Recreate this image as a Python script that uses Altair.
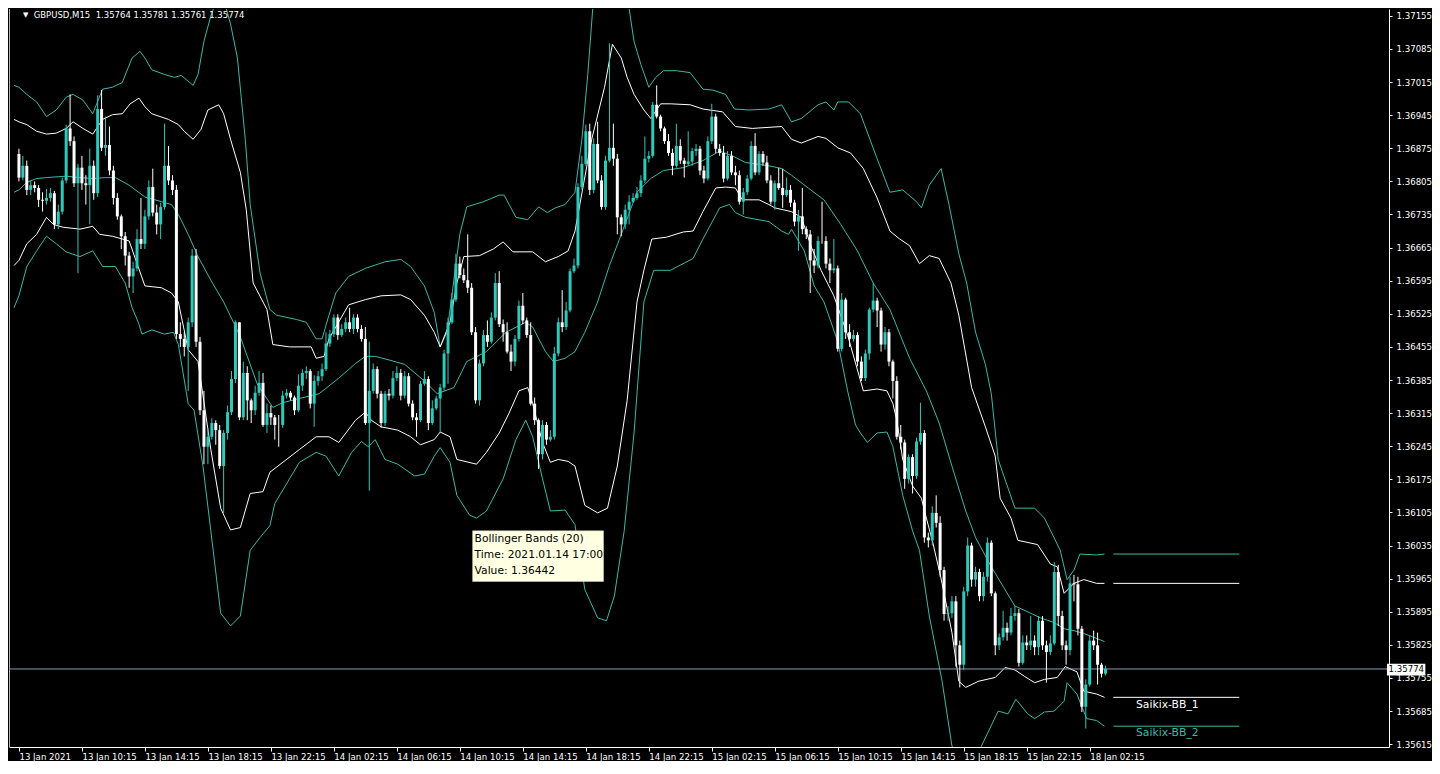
import altair as alt
import pandas as pd

# ---------------- data ----------------
first_open = 1.36863

close = [
    1.36813, 1.36838, 1.36787, 1.36797, 1.36791, 1.36766, 1.36764, 1.36770, 1.36780, 1.36714,
    1.36741, 1.36807, 1.36917, 1.36890, 1.36801, 1.36834, 1.36801, 1.36797, 1.36838, 1.36780,
    1.36958, 1.36876, 1.36882, 1.36828, 1.36770, 1.36731, 1.36689, 1.36648, 1.36604, 1.36621,
    1.36683, 1.36673, 1.36731, 1.36793, 1.36739, 1.36714, 1.36751, 1.36838, 1.36807, 1.36787,
    1.36482, 1.36472, 1.36455, 1.36507, 1.36648, 1.36466, 1.36321, 1.36244, 1.36265, 1.36294,
    1.36279, 1.36203, 1.36273, 1.36317, 1.36387, 1.36507, 1.36306, 1.36400, 1.36342, 1.36321,
    1.36358, 1.36379, 1.36290, 1.36315, 1.36306, 1.36290, 1.36290, 1.36352, 1.36358, 1.36348,
    1.36321, 1.36373, 1.36400, 1.36404, 1.36335, 1.36383, 1.36393, 1.36408, 1.36462, 1.36482,
    1.36517, 1.36480, 1.36493, 1.36507, 1.36493, 1.36517, 1.36493, 1.36472, 1.36294, 1.36362,
    1.36408, 1.36356, 1.36294, 1.36356, 1.36352, 1.36389, 1.36400, 1.36352, 1.36393, 1.36335,
    1.36306, 1.36300, 1.36377, 1.36387, 1.36294, 1.36325, 1.36346, 1.36369, 1.36441, 1.36507,
    1.36555, 1.36631, 1.36607, 1.36596, 1.36580, 1.36486, 1.36342, 1.36420, 1.36480, 1.36466,
    1.36517, 1.36590, 1.36503, 1.36486, 1.36445, 1.36424, 1.36472, 1.36542, 1.36511, 1.36480,
    1.36335, 1.36300, 1.36228, 1.36290, 1.36259, 1.36265, 1.36441, 1.36507, 1.36497, 1.36532,
    1.36615, 1.36627, 1.36793, 1.36842, 1.36911, 1.36787, 1.36884, 1.36807, 1.36751, 1.36849,
    1.36876, 1.36853, 1.36729, 1.36714, 1.36745, 1.36762, 1.36770, 1.36780, 1.36807, 1.36853,
    1.36859, 1.36967, 1.36942, 1.36917, 1.36890, 1.36865, 1.36838, 1.36880, 1.36849, 1.36842,
    1.36847, 1.36869, 1.36874, 1.36828, 1.36811, 1.36890, 1.36942, 1.36874, 1.36865, 1.36811,
    1.36859, 1.36824, 1.36818, 1.36762, 1.36782, 1.36811, 1.36880, 1.36824, 1.36863, 1.36845,
    1.36807, 1.36762, 1.36801, 1.36791, 1.36776, 1.36787, 1.36760, 1.36720, 1.36731, 1.36704,
    1.36693, 1.36638, 1.36627, 1.36679, 1.36679, 1.36631, 1.36617, 1.36621, 1.36451, 1.36555,
    1.36486, 1.36472, 1.36480, 1.36424, 1.36389, 1.36441, 1.36534, 1.36553, 1.36532, 1.36460,
    1.36486, 1.36424, 1.36383, 1.36265, 1.36253, 1.36176, 1.36222, 1.36182, 1.36255, 1.36273,
    1.36052, 1.36046, 1.36104, 1.36083, 1.35983, 1.35890, 1.35892, 1.35917, 1.35824, 1.35783,
    1.35938, 1.36035, 1.35963, 1.35979, 1.35928, 1.35969, 1.36041, 1.35934, 1.35824, 1.35841,
    1.35861, 1.35851, 1.35886, 1.35892, 1.35787, 1.35830, 1.35824, 1.35834, 1.35820, 1.35876,
    1.35824, 1.35810, 1.35828, 1.35979, 1.35886, 1.35824, 1.35814, 1.35955, 1.35953, 1.35859,
    1.35694, 1.35741, 1.35834, 1.35824, 1.35783, 1.35764, 1.35774,
]

high = [
    1.36874, 1.36859, 1.36849, 1.36807, 1.36805, 1.36797, 1.36782, 1.36789, 1.36791, 1.36785,
    1.36756, 1.36813, 1.36925, 1.36989, 1.36900, 1.36842, 1.36859, 1.36818, 1.36874, 1.36849,
    1.36987, 1.36998, 1.36942, 1.36921, 1.36838, 1.36780, 1.36735, 1.36698, 1.36656, 1.36635,
    1.36704, 1.36770, 1.36745, 1.36807, 1.36832, 1.36756, 1.36760, 1.36927, 1.36880, 1.36818,
    1.36797, 1.36507, 1.36486, 1.36517, 1.36662, 1.36662, 1.36476, 1.36362, 1.36284, 1.36304,
    1.36300, 1.36290, 1.36279, 1.36331, 1.36404, 1.36511, 1.36507, 1.36424, 1.36414, 1.36346,
    1.36373, 1.36404, 1.36400, 1.36335, 1.36331, 1.36311, 1.36311, 1.36362, 1.36366, 1.36362,
    1.36352, 1.36397, 1.36408, 1.36414, 1.36408, 1.36395, 1.36404, 1.36420, 1.36486, 1.36491,
    1.36524, 1.36524, 1.36503, 1.36517, 1.36538, 1.36524, 1.36524, 1.36501, 1.36497, 1.36466,
    1.36420, 1.36414, 1.36362, 1.36362, 1.36366, 1.36404, 1.36414, 1.36408, 1.36404, 1.36400,
    1.36342, 1.36315, 1.36383, 1.36404, 1.36393, 1.36342, 1.36352, 1.36377, 1.36449, 1.36517,
    1.36569, 1.36652, 1.36646, 1.36621, 1.36693, 1.36590, 1.36497, 1.36428, 1.36491, 1.36511,
    1.36528, 1.36611, 1.36615, 1.36513, 1.36507, 1.36460, 1.36480, 1.36553, 1.36569, 1.36517,
    1.36507, 1.36348, 1.36304, 1.36300, 1.36296, 1.36279, 1.36455, 1.36517, 1.36575, 1.36550,
    1.36621, 1.36642, 1.36801, 1.36859, 1.36925, 1.36927, 1.36896, 1.36931, 1.36818, 1.36859,
    1.37097, 1.36927, 1.36863, 1.36735, 1.36756, 1.36776, 1.36780, 1.36793, 1.36818, 1.36900,
    1.36869, 1.36973, 1.37008, 1.36946, 1.36921, 1.36905, 1.36874, 1.36927, 1.36894, 1.36855,
    1.36911, 1.36876, 1.36884, 1.36880, 1.36838, 1.36900, 1.36969, 1.36948, 1.36884, 1.36880,
    1.36869, 1.36869, 1.36838, 1.36828, 1.36791, 1.36818, 1.36890, 1.36907, 1.36869, 1.36869,
    1.36859, 1.36818, 1.36807, 1.36834, 1.36832, 1.36813, 1.36797, 1.36766, 1.36745, 1.36791,
    1.36710, 1.36702, 1.36662, 1.36689, 1.36762, 1.36689, 1.36642, 1.36683, 1.36627, 1.36569,
    1.36559, 1.36503, 1.36491, 1.36486, 1.36435, 1.36449, 1.36538, 1.36590, 1.36559, 1.36538,
    1.36497, 1.36493, 1.36428, 1.36393, 1.36290, 1.36259, 1.36228, 1.36228, 1.36263, 1.36337,
    1.36279, 1.36062, 1.36118, 1.36141, 1.36097, 1.35990, 1.35907, 1.35928, 1.35928, 1.35834,
    1.35948, 1.36052, 1.36041, 1.35990, 1.35986, 1.35979, 1.36052, 1.36046, 1.35938, 1.35849,
    1.35897, 1.35872, 1.35903, 1.35907, 1.35901, 1.35845, 1.35845, 1.35886, 1.35845, 1.35886,
    1.35886, 1.35834, 1.35845, 1.36000, 1.35994, 1.35897, 1.35834, 1.35969, 1.35973, 1.35969,
    1.35865, 1.35752, 1.35845, 1.35855, 1.35851, 1.35787, 1.35781,
]

low = [
    1.36805, 1.36807, 1.36776, 1.36776, 1.36782, 1.36751, 1.36741, 1.36756, 1.36762, 1.36704,
    1.36704, 1.36735, 1.36801, 1.36880, 1.36793, 1.36611, 1.36787, 1.36756, 1.36714, 1.36766,
    1.36772, 1.36869, 1.36859, 1.36818, 1.36756, 1.36724, 1.36662, 1.36627, 1.36580, 1.36569,
    1.36615, 1.36662, 1.36662, 1.36724, 1.36731, 1.36693, 1.36683, 1.36745, 1.36797, 1.36776,
    1.36472, 1.36455, 1.36435, 1.36362, 1.36497, 1.36455, 1.36311, 1.36207, 1.36207, 1.36259,
    1.36248, 1.36197, 1.36104, 1.36259, 1.36311, 1.36379, 1.36300, 1.36300, 1.36300, 1.36294,
    1.36311, 1.36352, 1.36286, 1.36273, 1.36290, 1.36259, 1.36244, 1.36284, 1.36346, 1.36342,
    1.36311, 1.36317, 1.36362, 1.36387, 1.36325, 1.36286, 1.36373, 1.36383, 1.36404, 1.36455,
    1.36476, 1.36470, 1.36476, 1.36486, 1.36486, 1.36482, 1.36486, 1.36466, 1.36290, 1.36151,
    1.36356, 1.36346, 1.36284, 1.36288, 1.36342, 1.36346, 1.36383, 1.36342, 1.36346, 1.36329,
    1.36300, 1.36265, 1.36296, 1.36373, 1.36279, 1.36290, 1.36321, 1.36275, 1.36362, 1.36377,
    1.36503, 1.36550, 1.36600, 1.36590, 1.36569, 1.36480, 1.36335, 1.36331, 1.36414, 1.36455,
    1.36462, 1.36511, 1.36497, 1.36466, 1.36441, 1.36404, 1.36414, 1.36466, 1.36503, 1.36474,
    1.36331, 1.36290, 1.36197, 1.36217, 1.36248, 1.36255, 1.36259, 1.36435, 1.36486, 1.36491,
    1.36528, 1.36611, 1.36621, 1.36787, 1.36838, 1.36776, 1.36780, 1.36801, 1.36745, 1.36745,
    1.36845, 1.36838, 1.36693, 1.36689, 1.36704, 1.36714, 1.36760, 1.36766, 1.36772, 1.36801,
    1.36845, 1.36855, 1.36938, 1.36911, 1.36884, 1.36859, 1.36818, 1.36834, 1.36842, 1.36813,
    1.36838, 1.36838, 1.36859, 1.36818, 1.36801, 1.36807, 1.36884, 1.36865, 1.36859, 1.36803,
    1.36807, 1.36818, 1.36797, 1.36756, 1.36735, 1.36776, 1.36807, 1.36818, 1.36818, 1.36838,
    1.36801, 1.36756, 1.36745, 1.36787, 1.36749, 1.36772, 1.36751, 1.36710, 1.36658, 1.36693,
    1.36683, 1.36569, 1.36611, 1.36621, 1.36673, 1.36621, 1.36590, 1.36611, 1.36445, 1.36445,
    1.36472, 1.36455, 1.36466, 1.36414, 1.36383, 1.36383, 1.36428, 1.36528, 1.36497, 1.36445,
    1.36449, 1.36414, 1.36346, 1.36259, 1.36238, 1.36155, 1.36166, 1.36145, 1.36176, 1.36248,
    1.36041, 1.36031, 1.36035, 1.36073, 1.35969, 1.35876, 1.35876, 1.35882, 1.35779, 1.35735,
    1.35772, 1.35928, 1.35948, 1.35948, 1.35917, 1.35917, 1.35959, 1.35928, 1.35803, 1.35814,
    1.35834, 1.35834, 1.35845, 1.35876, 1.35779, 1.35783, 1.35814, 1.35814, 1.35803, 1.35803,
    1.35814, 1.35745, 1.35803, 1.35824, 1.35865, 1.35814, 1.35783, 1.35803, 1.35917, 1.35845,
    1.35683, 1.35648, 1.35737, 1.35814, 1.35741, 1.35756, 1.35760,
]

# Bollinger band lines: (bar index, price) points
bb2_upper = [
    (-1.25, 1.37008), (0, 1.37004), (2, 1.36989), (4.5, 1.36973), (7, 1.36942), (9.5, 1.36956),
    (12, 1.36983), (13.75, 1.36989), (16.25, 1.36977), (18.75, 1.36948), (21.25, 1.37000),
    (23.75, 1.37004), (26.25, 1.37014), (28.75, 1.37066), (30.75, 1.37080), (32, 1.37066),
    (33.75, 1.37041), (37, 1.37031), (39.5, 1.37025), (41.25, 1.37029), (44.25, 1.37008),
    (45.5, 1.37031), (47, 1.37101), (48.75, 1.37155), (50.5, 1.37194), (52, 1.37190),
    (53.75, 1.37138), (55.5, 1.37066), (57.5, 1.36894), (58.75, 1.36756), (61.25, 1.36611),
    (63.75, 1.36534), (65.5, 1.36522), (70.5, 1.36513), (73, 1.36507), (75.5, 1.36472),
    (77, 1.36472), (78.75, 1.36522), (80.5, 1.36569), (83.75, 1.36604), (88, 1.36621),
    (93, 1.36635), (97, 1.36640), (99.5, 1.36625), (103, 1.36584), (105.5, 1.36528),
    (107, 1.36455), (108.75, 1.36486), (112, 1.36693), (113.75, 1.36751), (118, 1.36762),
    (122, 1.36776), (123.25, 1.36776), (126.25, 1.36729), (129.25, 1.36724), (132, 1.36751),
    (134.25, 1.36739), (136.25, 1.36749), (138.75, 1.36756), (141.25, 1.36782), (143, 1.36894),
    (144.5, 1.37031), (145.75, 1.37170), (148.75, 1.37252), (151.75, 1.37263), (154.25, 1.37190),
    (155, 1.37170), (156.25, 1.37101), (158, 1.37052), (160, 1.37004), (161.75, 1.37025),
    (163.75, 1.37039), (167, 1.37039), (170.5, 1.37035), (173.75, 1.37000), (176.25, 1.36998),
    (179.5, 1.36989), (181.75, 1.36958), (185.5, 1.36956), (190.5, 1.36958), (193.75, 1.36967),
    (196.25, 1.36931), (198.75, 1.36938), (203, 1.36967), (205, 1.36973), (207, 1.36956),
    (208, 1.36973), (210.75, 1.36973), (213.75, 1.36948), (218, 1.36853), (221.25, 1.36782),
    (224.5, 1.36787), (228, 1.36762), (229.25, 1.36749), (231.25, 1.36797), (234.25, 1.36832),
    (236.25, 1.36756), (238.75, 1.36652), (240.75, 1.36590), (243, 1.36486), (245.5, 1.36418),
    (247, 1.36356), (248.75, 1.36217), (253, 1.36114), (258, 1.36114), (260.5, 1.36093),
    (264.5, 1.36025), (266.25, 1.35963), (268, 1.35983), (269.5, 1.36017), (273.75, 1.36015),
    (275.75, 1.36017),
]

bb1_upper = [
    (-1.25, 1.36936), (0, 1.36931), (2, 1.36925), (4.5, 1.36911), (7, 1.36905), (9.5, 1.36907),
    (12, 1.36917), (13.75, 1.36931), (16.25, 1.36917), (18.75, 1.36905), (21.25, 1.36936),
    (23.75, 1.36946), (26.25, 1.36948), (28.25, 1.36969), (30.5, 1.36981), (32, 1.36963),
    (33.75, 1.36948), (38, 1.36936), (40.5, 1.36925), (42, 1.36911), (44.25, 1.36894),
    (46.25, 1.36915), (48, 1.36956), (50.75, 1.36967), (52, 1.36948), (53.75, 1.36894),
    (56.25, 1.36824), (57.75, 1.36745), (59.5, 1.36590), (63, 1.36534), (64.5, 1.36460),
    (68.75, 1.36455), (74.25, 1.36455), (75.5, 1.36431), (77.5, 1.36435), (78.75, 1.36472),
    (83.75, 1.36544), (88, 1.36555), (92, 1.36563), (97, 1.36565), (99.5, 1.36555),
    (103, 1.36522), (105.5, 1.36486), (107, 1.36455), (109.5, 1.36507), (111.25, 1.36590),
    (113, 1.36646), (117, 1.36648), (120.5, 1.36662), (123, 1.36677), (125.5, 1.36656),
    (130.5, 1.36656), (133.75, 1.36635), (137, 1.36646), (139.5, 1.36658), (141.25, 1.36700),
    (145.5, 1.36894), (148.75, 1.37004), (150.75, 1.37095), (153, 1.37066), (154.5, 1.37025),
    (156.25, 1.36989), (158.75, 1.36956), (160.5, 1.36938), (163, 1.36969), (165.5, 1.36969),
    (170.5, 1.36967), (173.75, 1.36958), (178.75, 1.36952), (182, 1.36921), (186.25, 1.36917),
    (193.75, 1.36921), (196.25, 1.36894), (198.75, 1.36886), (203, 1.36900), (205, 1.36896),
    (208, 1.36876), (211.25, 1.36865), (214.5, 1.36832), (218, 1.36770), (221.25, 1.36700),
    (223.75, 1.36683), (226.25, 1.36669), (228.75, 1.36631), (231.25, 1.36648), (233.75, 1.36642),
    (236.75, 1.36590), (238.75, 1.36522), (242, 1.36369), (245.5, 1.36286), (248, 1.36224),
    (249.25, 1.36135), (252, 1.36093), (253.75, 1.36046), (258.75, 1.36037), (262, 1.35996),
    (263.75, 1.35990), (265.5, 1.35934), (268, 1.35955), (270.5, 1.35963), (273.75, 1.35955),
    (275.75, 1.35955),
]

bb_middle = [
    (-1.25, 1.36782), (0, 1.36787), (2, 1.36803), (4.5, 1.36811), (7, 1.36813), (12, 1.36816),
    (15.5, 1.36813), (18.75, 1.36811), (22, 1.36813), (24.5, 1.36813), (28, 1.36797),
    (32, 1.36772), (36.25, 1.36762), (38.75, 1.36756), (40.5, 1.36735), (43, 1.36693),
    (45.5, 1.36646), (48.75, 1.36596), (52, 1.36550), (54.5, 1.36507), (56.25, 1.36476),
    (60.5, 1.36377), (64.5, 1.36327), (67, 1.36337), (71.25, 1.36346), (76.25, 1.36356),
    (81.25, 1.36389), (85.5, 1.36420), (88, 1.36435), (90.5, 1.36435), (93.75, 1.36428),
    (98, 1.36418), (103, 1.36383), (106.25, 1.36356), (110.5, 1.36369), (113.75, 1.36424),
    (118.75, 1.36445), (123.75, 1.36486), (128.75, 1.36507), (130.5, 1.36497), (133.75, 1.36445),
    (135.75, 1.36424), (138.75, 1.36431), (141.25, 1.36445), (143.75, 1.36486), (147, 1.36550),
    (150, 1.36627), (153, 1.36693), (157, 1.36782), (160.5, 1.36811), (163.75, 1.36828),
    (168.75, 1.36834), (173.75, 1.36849), (178, 1.36869), (181.25, 1.36859), (184.5, 1.36845),
    (190.5, 1.36838), (193.75, 1.36832), (196.25, 1.36818), (200.5, 1.36791), (204.5, 1.36766),
    (208.75, 1.36714), (213, 1.36658), (217, 1.36590), (221.25, 1.36534), (226.25, 1.36431),
    (230.5, 1.36362), (233.75, 1.36294), (237, 1.36203), (240.5, 1.36108), (243, 1.36052),
    (247, 1.35990), (253, 1.35907), (257, 1.35892), (259.5, 1.35882), (263, 1.35872),
    (265.5, 1.35859), (268, 1.35855), (270.5, 1.35849), (273, 1.35841), (275.75, 1.35832),
]

bb1_lower = [
    (-1.25, 1.36627), (0, 1.36638), (2, 1.36673), (4.5, 1.36693), (7, 1.36729), (8.75, 1.36714),
    (11.25, 1.36708), (15.5, 1.36704), (18.75, 1.36710), (20.5, 1.36693), (23.75, 1.36689),
    (28, 1.36679), (32, 1.36584), (36.25, 1.36580), (38.75, 1.36569), (40.5, 1.36550),
    (43, 1.36449), (45.5, 1.36424), (48.75, 1.36238), (51.25, 1.36114), (53.75, 1.36068),
    (56.25, 1.36073), (58.75, 1.36145), (62, 1.36149), (63.75, 1.36190), (71.25, 1.36238),
    (75.5, 1.36265), (78.75, 1.36265), (81.25, 1.36253), (85.5, 1.36300), (88, 1.36317),
    (89.5, 1.36300), (92, 1.36286), (96.25, 1.36279), (99.5, 1.36265), (102, 1.36248),
    (105.5, 1.36259), (107, 1.36275), (109.5, 1.36265), (111.25, 1.36217), (116.25, 1.36207),
    (118.75, 1.36232), (122, 1.36273), (124.5, 1.36315), (127, 1.36362), (129.25, 1.36369),
    (130.5, 1.36335), (133, 1.36253), (135, 1.36211), (137, 1.36217), (139.5, 1.36213),
    (141.25, 1.36203), (143.75, 1.36120), (147, 1.36104), (149.5, 1.36114), (152, 1.36203),
    (154.5, 1.36342), (157, 1.36550), (158.75, 1.36617), (160.75, 1.36683), (164.5, 1.36687),
    (168.75, 1.36698), (171.25, 1.36700), (173.75, 1.36741), (177, 1.36791), (179.5, 1.36793),
    (182, 1.36791), (183.75, 1.36766), (188, 1.36766), (190.5, 1.36756), (192, 1.36749),
    (196.25, 1.36741), (198.75, 1.36729), (201.25, 1.36667), (203.75, 1.36617), (207, 1.36563),
    (210.5, 1.36480), (214.5, 1.36362), (218, 1.36366), (220.5, 1.36362), (222, 1.36335),
    (223, 1.36300), (224.5, 1.36217), (227, 1.36161), (229.25, 1.36135), (230.5, 1.36093),
    (232, 1.36046), (233.75, 1.35983), (234.5, 1.35955), (237, 1.35851), (238.75, 1.35748),
    (240.5, 1.35735), (243.75, 1.35748), (248, 1.35756), (250.5, 1.35777), (253, 1.35772),
    (255.5, 1.35758), (258, 1.35745), (260.5, 1.35752), (263.75, 1.35756), (265.75, 1.35779),
    (268.75, 1.35768), (270.5, 1.35727), (273.75, 1.35721), (275.75, 1.35714),
]

bb2_lower = [
    (-1.25, 1.36538), (0, 1.36563), (2, 1.36625), (4.5, 1.36658), (7, 1.36689), (9.5, 1.36673),
    (12, 1.36656), (15.5, 1.36646), (18.75, 1.36658), (21.25, 1.36625), (24.5, 1.36625),
    (27, 1.36590), (28.75, 1.36538), (30.5, 1.36503), (31.25, 1.36482), (33.75, 1.36491),
    (37, 1.36482), (39.25, 1.36486), (40.5, 1.36460), (43, 1.36335), (44.5, 1.36321),
    (46.75, 1.36203), (48.75, 1.36066), (51.25, 1.35892), (53.75, 1.35865), (56.25, 1.35886),
    (58.75, 1.36025), (61.25, 1.36052), (63.75, 1.36077), (65, 1.36124), (71.25, 1.36211),
    (75.5, 1.36232), (78, 1.36224), (81.25, 1.36182), (84.5, 1.36232), (87, 1.36255),
    (88.75, 1.36244), (90.5, 1.36259), (93, 1.36217), (96.25, 1.36207), (100.5, 1.36182),
    (103, 1.36186), (105.5, 1.36224), (107, 1.36242), (109.5, 1.36211), (111.25, 1.36141),
    (114.5, 1.36099), (116.25, 1.36093), (118.75, 1.36108), (123, 1.36176), (126.25, 1.36259),
    (128.75, 1.36300), (130.5, 1.36265), (133, 1.36176), (135, 1.36108), (138.75, 1.36110),
    (141.25, 1.36079), (143.75, 1.35942), (147, 1.35882), (149.25, 1.35876), (151.25, 1.35928),
    (153.75, 1.36066), (156.25, 1.36273), (158.75, 1.36550), (161.25, 1.36617), (165.5, 1.36617),
    (171.25, 1.36642), (173.75, 1.36683), (178, 1.36749), (180.5, 1.36756), (182, 1.36739),
    (184.5, 1.36729), (190.5, 1.36720), (193.75, 1.36700), (195.5, 1.36693), (196.25, 1.36704),
    (199.5, 1.36658), (202, 1.36584), (204.5, 1.36550), (208, 1.36466), (210.5, 1.36362),
    (212.5, 1.36290), (213.75, 1.36273), (215.5, 1.36253), (218, 1.36273), (220.5, 1.36275),
    (222, 1.36244), (224.5, 1.36141), (227, 1.36066), (228.75, 1.36025), (231.25, 1.35886),
    (234.5, 1.35748), (237, 1.35611), (240.75, 1.35565), (244.5, 1.35611), (248.75, 1.35685),
    (251.25, 1.35679), (253.25, 1.35710), (256.25, 1.35679), (258, 1.35669), (260.5, 1.35683),
    (263, 1.35685), (265.5, 1.35706), (266.25, 1.35745), (268.75, 1.35721), (270, 1.35694),
    (271.25, 1.35669), (273.75, 1.35665), (275.75, 1.35653),
]

tick_bars = [0, 16, 32, 48, 64, 80, 96, 112, 128, 144, 160, 176, 192, 208, 224, 240, 256, 272]
tick_labels = [
    "13 Jan 2021", "13 Jan 10:15", "13 Jan 14:15", "13 Jan 18:15", "13 Jan 22:15",
    "14 Jan 02:15", "14 Jan 06:15", "14 Jan 10:15", "14 Jan 14:15", "14 Jan 18:15",
    "14 Jan 22:15", "15 Jan 02:15", "15 Jan 06:15", "15 Jan 10:15", "15 Jan 14:15",
    "15 Jan 18:15", "15 Jan 22:15", "18 Jan 02:15",
]
price_ticks = [
    1.35615, 1.35685, 1.35755, 1.35825, 1.35895, 1.35965, 1.36035, 1.36105, 1.36175,
    1.36245, 1.36315, 1.36385, 1.36455, 1.36525, 1.36595, 1.36665, 1.36735, 1.36805,
    1.36875, 1.36945, 1.37015, 1.37085, 1.37155,
]

last_quote = 1.35774
header_text = "GBPUSD,M15\u00a0\u00a01.35764 1.35781 1.35761 1.35774"
tooltip_lines = ["Bollinger Bands (20)", "Time: 2021.01.14 17:00", "Value: 1.36442"]
band_labels = ["Saikix-BB_1", "Saikix-BB_2"]

# ---------------- styling ----------------
TURQ = "#2ec9b9"
LINE_TURQ = "#3ab8a9"
WHITE = "#ffffff"
QUOTE = "#8a9bb0"
FONT = "DejaVu Sans"

# ---------------- tables ----------------
bars = list(range(len(close)))
opens = [first_open] + close[:-1]
candles = pd.DataFrame(dict(bar=bars, open=opens, close=close, high=high, low=low))
candles["dir"] = ["up" if c > o else "down" for o, c in zip(opens, close)]

band_specs = [
    ("bb2_upper", bb2_upper, LINE_TURQ),
    ("bb1_upper", bb1_upper, WHITE),
    ("bb_middle", bb_middle, LINE_TURQ),
    ("bb1_lower", bb1_lower, WHITE),
    ("bb2_lower", bb2_lower, LINE_TURQ),
]
rows = []
for name, pts, col in band_specs:
    for b, p in pts:
        rows.append(dict(line=name, bar=b, price=p, col=col))
band_df = pd.DataFrame(rows)

seg_df = pd.DataFrame([
    dict(bar=278, bar2=310, price=pts[-1][1], col=col)
    for name, pts, col in band_specs if name != "bb_middle"
])
label_df = pd.DataFrame(dict(bar=[283.75, 283.75], price=[1.35698, 1.35638],
                             text=band_labels, col=[WHITE, LINE_TURQ]))

# ---------------- scales / axes ----------------
xs = alt.Scale(domain=[-1.25, 346.75], nice=False, zero=False)
ys = alt.Scale(domain=[1.35609, 1.371695], nice=False, zero=False)

label_expr = "[" + ",".join("'" + s + "'" for s in tick_labels) + "][round(datum.value / 16)]"
x_axis = alt.Axis(values=tick_bars, labelExpr=label_expr, labelAlign="left", labelFlush=False,
                  labelOverlap=False, grid=False, domainColor=WHITE, tickColor=WHITE,
                  labelColor=WHITE, tickSize=4, labelPadding=1, labelFont=FONT,
                  labelFontSize=8.6, domainWidth=1, tickWidth=1)
y_axis = alt.Axis(orient="right", values=price_ticks, format=".5f", labelAlign="left",
                  labelFlush=False, labelOverlap=False, grid=False, domainColor=WHITE,
                  tickColor=WHITE, labelColor=WHITE, tickSize=3, labelPadding=4,
                  labelFont=FONT, labelFontSize=8.6, domainWidth=1, tickWidth=1)


def X(field="bar"):
    return alt.X(f"{field}:Q", scale=xs, axis=x_axis, title=None)


def Y(field="price"):
    return alt.Y(f"{field}:Q", scale=ys, axis=y_axis, title=None)


# ---------------- layers ----------------
frame = alt.Chart(pd.DataFrame({"k": [0]})).mark_rule(color="#b4b4b4", strokeWidth=1).encode(
    x=alt.value(0.5))

quote_line = alt.Chart(pd.DataFrame({"price": [last_quote]})).mark_rule(
    color=QUOTE, strokeWidth=1).encode(y=Y())

ccol = alt.Color("dir:N", scale=alt.Scale(domain=["up", "down"], range=[TURQ, WHITE]), legend=None)
wicks = alt.Chart(candles).mark_rule(strokeWidth=1).encode(
    x=X(), y=Y("low"), y2="high:Q", color=ccol)
bodies = alt.Chart(candles).mark_bar(size=3).encode(
    x=X(), y=Y("open"), y2="close:Q", color=ccol)

band_lines = alt.Chart(band_df).mark_line(strokeWidth=1, clip=True).encode(
    x=X(), y=Y(),
    detail="line:N",
    color=alt.Color("col:N", scale=None),
    order="bar:Q",
)

segments = alt.Chart(seg_df).mark_rule(strokeWidth=1).encode(
    x=X(), x2="bar2:Q", y=Y(), color=alt.Color("col:N", scale=None))
seg_labels = alt.Chart(label_df).mark_text(align="left", baseline="middle", font=FONT,
                                            fontSize=10.8).encode(
    x=X(), y=Y(), text="text:N", color=alt.Color("col:N", scale=None))

tip_box = alt.Chart(pd.DataFrame(dict(bar=[115.25], bar2=[148.5], price=[1.36066],
                                      price2=[1.35959]))).mark_rect(
    fill="#ffffe1", stroke="#d8d8c0", strokeWidth=0.5).encode(
    x=X(), x2="bar2:Q", y=Y(), y2="price2:Q")
tip_text = alt.Chart(pd.DataFrame(dict(bar=[115.75] * 3, price=[1.36048, 1.36015, 1.35981],
                                       text=tooltip_lines))).mark_text(
    align="left", baseline="middle", font=FONT, fontSize=10.7, color="#000000").encode(
    x=X(), y=Y(), text="text:N")

header_tri = alt.Chart(pd.DataFrame(dict(bar=[1.75], price=[1.37157], text=["\u25bc"]))).mark_text(
    align="center", baseline="middle", font=FONT, fontSize=7, color=WHITE).encode(
    x=X(), y=Y(), text="text:N")
header = alt.Chart(pd.DataFrame(dict(bar=[3.75], price=[1.37157], text=[header_text]))).mark_text(
    align="left", baseline="middle", font=FONT, fontSize=8.5, color=WHITE).encode(
    x=X(), y=Y(), text="text:N")

quote_box = alt.Chart(pd.DataFrame(dict(bar=[347.5], bar2=[357.25], price=[1.357848],
                                        price2=[1.35760]))).mark_rect(fill=WHITE).encode(
    x=X(), x2="bar2:Q", y=Y(), y2="price2:Q")
quote_text = alt.Chart(pd.DataFrame(dict(bar=[347.9], price=[last_quote],
                                         text=["1.35774"]))).mark_text(
    align="left", baseline="middle", font=FONT, fontSize=8.6, color="#000000").encode(
    x=X(), y=Y(), text="text:N")

chart = alt.layer(
    band_lines, frame, quote_line, wicks, bodies, segments, seg_labels,
    tip_box, tip_text, header_tri, header, quote_box, quote_text,
).properties(
    width=1380, height=738, padding=0, background="#000000",
).configure_view(stroke="transparent")

chart.save("out.html", embed_options={"renderer": "svg", "actions": False})
